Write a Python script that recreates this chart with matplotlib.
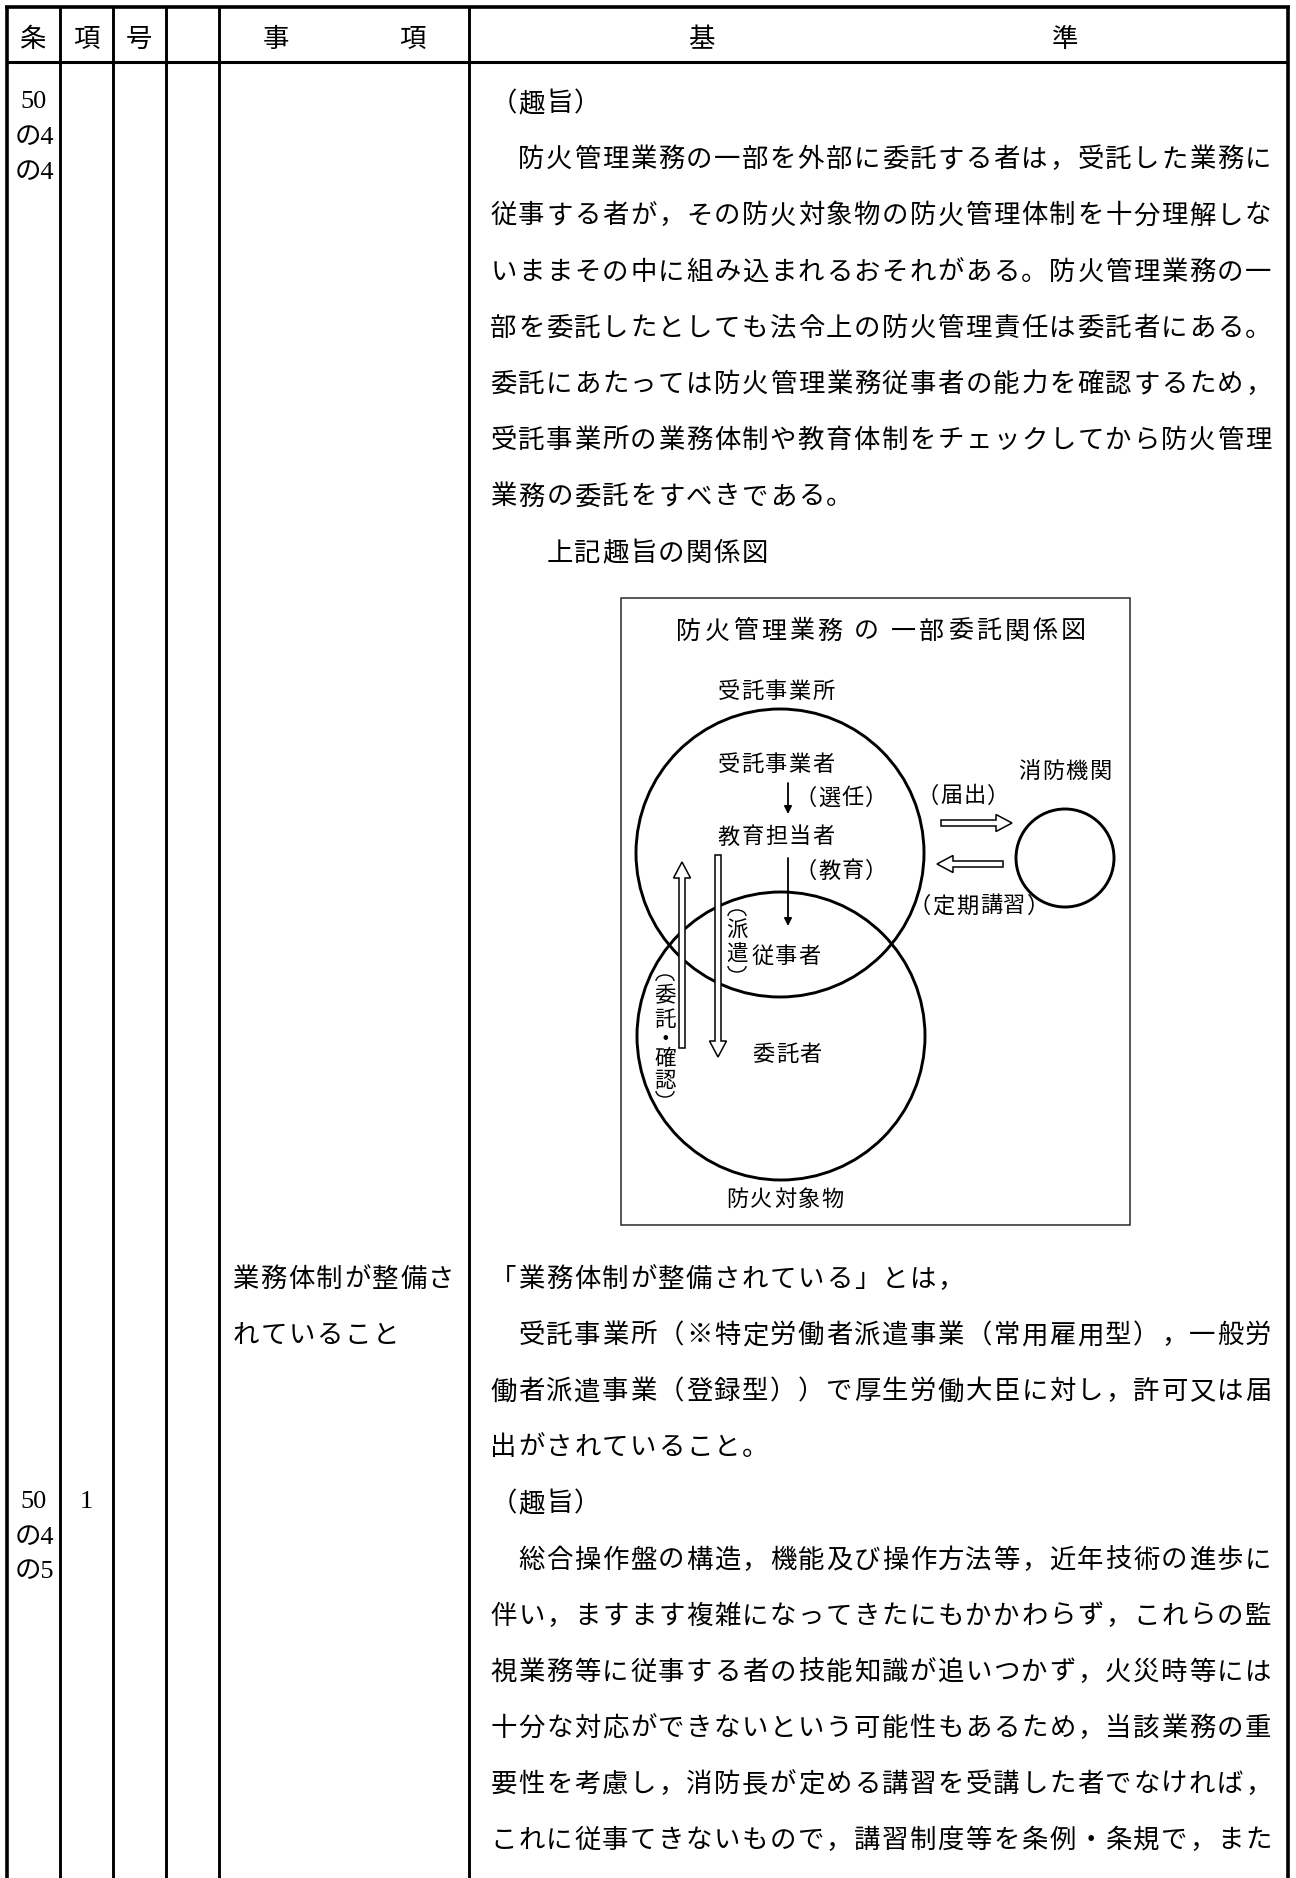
import matplotlib
matplotlib.use('Agg')
import matplotlib.pyplot as plt
from matplotlib.patches import Circle, Rectangle, FancyArrow, Arc

plt.rcParams['font.family'] = ['Noto Sans CJK JP', 'DejaVu Sans']

# ---------------- content ----------------
header_labels = ['条', '項', '号', '事', '項', '基', '準']

article_a = ['50', 'の4', 'の4']
article_b = ['50', 'の4', 'の5']
paragraph_b = '1'

item_lines = ['業務体制が整備さ', 'れていること']

body_block_a = [
    '（趣旨）',
    '　防火管理業務の一部を外部に委託する者は，受託した業務に',
    '従事する者が，その防火対象物の防火管理体制を十分理解しな',
    'いままその中に組み込まれるおそれがある。防火管理業務の一',
    '部を委託したとしても法令上の防火管理責任は委託者にある。',
    '委託にあたっては防火管理業務従事者の能力を確認するため，',
    '受託事業所の業務体制や教育体制をチェックしてから防火管理',
    '業務の委託をすべきである。',
    '　　上記趣旨の関係図',
]
body_block_b = [
    '「業務体制が整備されている」とは，',
    '　受託事業所（※特定労働者派遣事業（常用雇用型），一般労',
    '働者派遣事業（登録型））で厚生労働大臣に対し，許可又は届',
    '出がされていること。',
    '（趣旨）',
    '　総合操作盤の構造，機能及び操作方法等，近年技術の進歩に',
    '伴い，ますます複雑になってきたにもかかわらず，これらの監',
    '視業務等に従事する者の技能知識が追いつかず，火災時等には',
    '十分な対応ができないという可能性もあるため，当該業務の重',
    '要性を考慮し，消防長が定める講習を受講した者でなければ，',
    'これに従事てきないもので，講習制度等を条例・条規で，また',
]

diagram_title = '防火管理業務 の 一部委託関係図'
diagram_labels = ['受託事業所', '受託事業者', '（選任）', '教育担当者', '（教育）',
                  '消防機関', '（届出）', '（定期講習）', '従事者', '委託者', '防火対象物']
vertical_labels = ['派遣', '委託・確認']

# ---------------- layout ----------------
W, H, DPI = 1296, 1878, 100
fig = plt.figure(figsize=(W / DPI, H / DPI), dpi=DPI)
ax = fig.add_axes([0, 0, 1, 1])
ax.set_xlim(0, W)
ax.set_ylim(H, 0)
ax.axis('off')


def em_px(size):
    return size * DPI / 72.0


def cjk_char(ch, xc, yc, size):
    """draw one full-width character with its advance box centred on xc"""
    em = em_px(size)
    ax.text(xc - em / 2, yc + 0.38 * em, ch, ha='left', va='baseline',
            fontsize=size, color='black')


def grid_text(s, x0, yc, pitch, size, space_adv=None):
    """place full-width characters on a fixed pitch grid"""
    x = x0
    for ch in s:
        if ch == ' ':
            x += space_adv if space_adv is not None else pitch * 0.5
            continue
        if ch != '　':
            cjk_char(ch, x + pitch / 2, yc, size)
        x += pitch


def centered(s, xc, yc, pitch, size):
    grid_text(s, xc - len(s) * pitch / 2, yc, pitch, size)


# table lines
col_x = [7, 60, 113, 166, 219, 469, 1288]
for i, x in enumerate(col_x):
    lw = 2.6 if i in (0, len(col_x) - 1) else 2.1
    ax.plot([x, x], [6, H], color='black', lw=lw, solid_capstyle='butt')
ax.plot([5, 1290], [7, 7], color='black', lw=2.6, solid_capstyle='butt')
ax.plot([7, 1288], [62, 62], color='black', lw=2.2, solid_capstyle='butt')

# header
BODY = 19.0
header_x = [32, 86, 139, 276, 412, 701, 1065]
for lab, x in zip(header_labels, header_x):
    cjk_char(lab, x, 37, BODY)

# article / paragraph column
SERIF = ['Liberation Serif', 'Noto Sans CJK JP']
NUM = 19
for txt, y in zip(article_a, [99, 135, 170]):
    ax.text(34, y + 0.34 * em_px(NUM), txt, ha='center', va='baseline', fontsize=NUM, family=SERIF)
for txt, y in zip(article_b, [1499, 1535, 1569]):
    ax.text(34, y + 0.34 * em_px(NUM), txt, ha='center', va='baseline', fontsize=NUM, family=SERIF)
ax.text(86, 1499 + 0.34 * em_px(NUM), paragraph_b, ha='center', va='baseline', fontsize=NUM, family=SERIF)

# item column
for j, s in enumerate(item_lines):
    grid_text(s, 231.5, 1277 + 56.1 * j, 28.0, BODY)

# body text
X0, PITCH = 489.5, 27.95
for k, s in enumerate(body_block_a):
    grid_text(s, X0, 101 + 56.2 * k, PITCH, BODY)
for j, s in enumerate(body_block_b):
    grid_text(s, X0, 1277 + 56.1 * j, PITCH, BODY)

# ---------------- diagram ----------------
ax.add_patch(Rectangle((621, 598), 509, 627, fill=False, ec='#2a2a2a', lw=1.1))

# title
grid_text(diagram_title, 688.5 - 28.3 / 2, 629, 28.3, 18.0, space_adv=28.3 * 0.3)

LAB = 16.0
LP = 23.6
label_pos = {
    '受託事業所': (776, 690),
    '受託事業者': (776, 763),
    '（選任）': (841, 796),
    '教育担当者': (776, 835),
    '（教育）': (841, 869),
    '消防機関': (1065, 770),
    '（届出）': (963, 794),
    '（定期講習）': (979, 904),
    '従事者': (786, 955),
    '委託者': (787, 1053),
    '防火対象物': (785, 1198),
}
for lab in diagram_labels:
    xc, yc = label_pos[lab]
    centered(lab, xc, yc, LP, LAB)

# circles
ax.add_patch(Circle((780, 853), 144, fill=False, ec='black', lw=2.1))
ax.add_patch(Circle((781, 1036), 144, fill=False, ec='black', lw=2.1))
ax.add_patch(Circle((1065, 858), 49, fill=False, ec='black', lw=2.1))

# simple arrows
for (x, y1, y2) in [(788, 783, 814), (788, 858, 926)]:
    ax.annotate('', xy=(x, y2), xytext=(x, y1),
                arrowprops=dict(arrowstyle='-|>', color='black', lw=1.3,
                                mutation_scale=11, shrinkA=0, shrinkB=0))

# hollow double arrows
def hollow(x, y, dx, dy):
    ax.add_patch(FancyArrow(x, y, dx, dy, width=6, length_includes_head=True,
                            head_width=17, head_length=16, fc='white', ec='black', lw=1.1))

hollow(941, 823, 71, 0)
hollow(1003, 864, -66, 0)
hollow(682, 1048, 0, -186)
hollow(718, 855, 0, 202)

# vertical labels with vertical parentheses
VS = 15.5
def vertical(chars, x, ys, top, bottom):
    for ch, y in zip(chars, ys):
        cjk_char(ch, x, y, VS)
    ax.add_patch(Arc((x, top + 6), 18, 12, theta1=180, theta2=360, color='black', lw=1.0))
    ax.add_patch(Arc((x, bottom - 6), 18, 12, theta1=0, theta2=180, color='black', lw=1.0))

vertical(vertical_labels[0], 737, [929, 953], 910, 972)
vertical(vertical_labels[1], 665, [994, 1018, 1038, 1057, 1079], 975, 1097)

fig.savefig('out.png', dpi=DPI)
